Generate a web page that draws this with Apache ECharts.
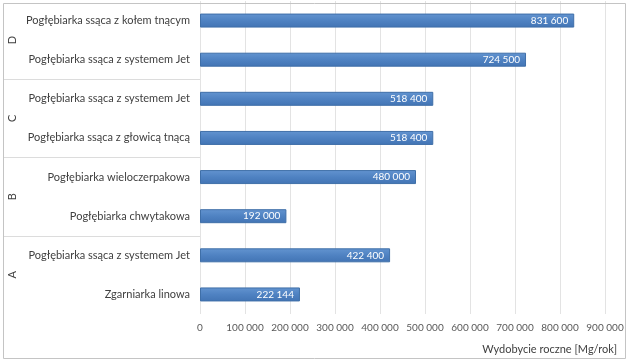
<!DOCTYPE html>
<html>
<head>
<meta charset="utf-8">
<script src="https://cdn.jsdelivr.net/npm/echarts@6/dist/echarts.min.js"></script>
<style>
html,body{margin:0;padding:0;background:#fff;}
#chart{width:630px;height:364px;}
</style>
</head>
<body>
<div id="chart"></div>
<script>
// Data (top to bottom)
var categories = [
  'Pogłębiarka ssąca z kołem tnącym',
  'Pogłębiarka ssąca z systemem Jet',
  'Pogłębiarka ssąca z systemem Jet',
  'Pogłębiarka ssąca z głowicą tnącą',
  'Pogłębiarka wieloczerpakowa',
  'Pogłębiarka chwytakowa',
  'Pogłębiarka ssąca z systemem Jet',
  'Zgarniarka linowa'
];
var values = [831600, 724500, 518400, 518400, 480000, 192000, 422400, 222144];
var groups = ['D', 'C', 'B', 'A'];
var axisTitle = 'Wydobycie roczne [Mg/rok]';

function fmt(v) {
  return String(v).replace(/\B(?=(\d{3})+(?!\d))/g, ' ');
}

var chart = echarts.init(document.getElementById('chart'), null, {renderer: 'canvas'});
var fontFam = 'Lato, "Open Sans", sans-serif';

chart.setOption({
  animation: false,
  backgroundColor: '#ffffff',
  textStyle: {fontFamily: fontFam},
  grid: [
    {left: 200, right: 25, top: 1, bottom: 50},
    {left: 4, width: 196, top: 1, bottom: 50}
  ],
  xAxis: [
    {
      type: 'value', gridIndex: 0, min: 0, max: 900000, interval: 100000,
      axisLine: {show: false}, axisTick: {show: false},
      splitLine: {show: true, lineStyle: {color: '#e3e3e3', width: 1}},
      axisLabel: {formatter: fmt, color: '#595959', fontSize: 10, margin: 9, fontFamily: fontFam},
      name: axisTitle, nameLocation: 'end', nameGap: 12,
      nameTextStyle: {align: 'right', verticalAlign: 'top', padding: [30, 0, 0, 0], color: '#404040', fontSize: 11, fontFamily: fontFam}
    },
    {type: 'value', gridIndex: 1, show: false}
  ],
  yAxis: [
    {
      type: 'category', gridIndex: 0, data: categories, inverse: true,
      axisLine: {show: false}, axisTick: {show: false},
      axisLabel: {color: '#404040', fontSize: 11, margin: 10, fontFamily: fontFam}
    },
    {
      type: 'category', gridIndex: 1, data: groups, inverse: true,
      axisLine: {show: false}, axisTick: {show: false},
      splitLine: {show: true, lineStyle: {color: ['transparent', '#dcdcdc', '#dcdcdc', '#dcdcdc', 'transparent'], width: 1}},
      axisLabel: {rotate: 90, margin: -14, color: '#404040', fontSize: 11, fontFamily: fontFam}
    }
  ],
  series: [{
    type: 'bar',
    xAxisIndex: 0, yAxisIndex: 0,
    data: values,
    barWidth: 14,
    itemStyle: {
      color: new echarts.graphic.LinearGradient(0, 0, 0, 1, [
        {offset: 0, color: '#6394d0'},
        {offset: 0.5, color: '#4f82c2'},
        {offset: 1, color: '#4274b4'}
      ]),
      borderColor: '#3f6fa8', borderWidth: 1
    },
    label: {
      show: true, position: 'insideRight', color: '#ffffff', fontSize: 10,
      distance: 6, formatter: function (p) { return fmt(p.value); }, fontFamily: fontFam
    }
  }],
  graphic: [{
    type: 'rect', silent: true, z: 100,
    shape: {x: 3.5, y: 3.5, width: 622, height: 355},
    style: {fill: 'none', stroke: '#c4c4c4', lineWidth: 1}
  }]
});
</script>
</body>
</html>
